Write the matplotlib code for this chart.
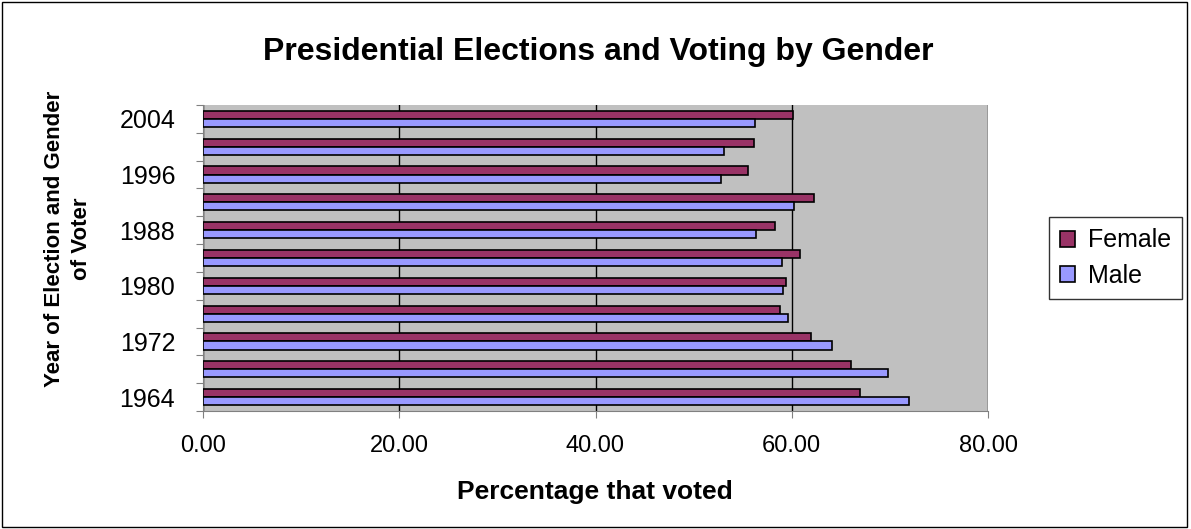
import numpy as np
import matplotlib.pyplot as plt
from matplotlib.patches import Rectangle

years = [1964, 1968, 1972, 1976, 1980, 1984, 1988, 1992, 1996, 2000, 2004]
female = [67.0, 66.0, 62.0, 58.8, 59.4, 60.8, 58.3, 62.3, 55.5, 56.2, 60.1]
male = [71.9, 69.8, 64.1, 59.6, 59.1, 59.0, 56.4, 60.2, 52.8, 53.1, 56.3]

plt.rcParams['font.family'] = ['Liberation Sans', 'DejaVu Sans']

fig = plt.figure(figsize=(11.91, 5.29), dpi=100)
ax = fig.add_axes([203 / 1191, 1 - 411 / 529, 785 / 1191, 306 / 529])
ax.set_facecolor('#C0C0C0')

y = np.arange(len(years))
h = 0.29
ax.barh(y + h / 2, female, height=h, color='#993366', edgecolor='black', linewidth=1.2, label='Female', zorder=3)
ax.barh(y - h / 2, male, height=h, color='#9999FF', edgecolor='black', linewidth=1.2, label='Male', zorder=3)

ax.set_xlim(0, 80)
ax.set_ylim(-0.5, len(years) - 0.5)
ax.set_xticks([0, 20, 40, 60, 80])
ax.set_xticklabels(['%.2f' % v for v in [0, 20, 40, 60, 80]], fontsize=17)
ax.xaxis.grid(True, color='black', linewidth=1, zorder=1)
ax.set_axisbelow(True)

# ticks on category boundaries, labels on every other category
ax.set_yticks(np.arange(len(years) + 1) - 0.5)
ax.set_yticklabels([])
ax.set_yticks(y[::2], minor=True)
ax.set_yticklabels([str(v) for v in years[::2]], minor=True, fontsize=18)
ax.tick_params(axis='y', which='minor', length=0, pad=20)
ax.tick_params(axis='y', which='major', length=5, color='#808080')
ax.tick_params(axis='x', length=5, color='#808080', pad=12)

for s in ['top', 'right']:
    ax.spines[s].set_visible(False)
for s in ['left', 'bottom']:
    ax.spines[s].set_color('#808080')

fig.text(595 / 1191, 1 - 492 / 529, 'Percentage that voted',
         ha='center', va='center', fontsize=19, fontweight='bold')
fig.text(68 / 1191, 1 - 239 / 529, 'Year of Election and Gender\nof Voter',
         ha='center', va='center', rotation=90, fontsize=16, fontweight='bold',
         multialignment='center', linespacing=1.4)

fig.text(598 / 1191, 1 - 52 / 529, 'Presidential Elections and Voting by Gender',
         ha='center', va='center', fontsize=23, fontweight='bold')

leg = fig.legend(loc='center left', bbox_to_anchor=(1049 / 1191, 1 - 258 / 529),
                 borderaxespad=0, fontsize=18, frameon=True, fancybox=False,
                 handlelength=0.6, handleheight=0.6, handletextpad=0.5,
                 labelspacing=0.45, borderpad=0.45)
leg.get_frame().set_edgecolor('black')
leg.get_frame().set_linewidth(1)

fig.patches.append(Rectangle((0.002, 0.003), 0.995, 0.994, transform=fig.transFigure,
                             fill=False, edgecolor='black', linewidth=1))

fig.savefig('out.png', dpi=100)
